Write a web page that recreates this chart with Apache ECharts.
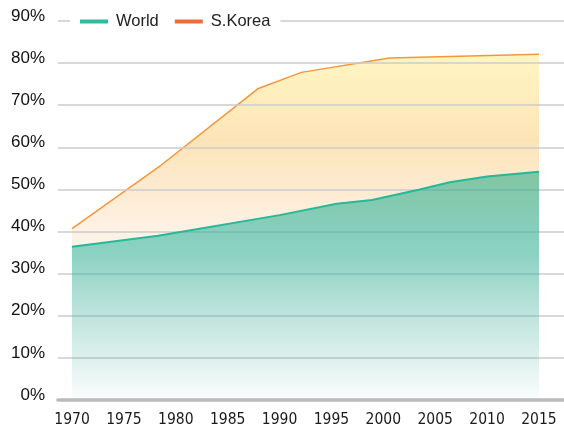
<!DOCTYPE html>
<html><head><meta charset="utf-8">
<script src="https://cdn.jsdelivr.net/npm/echarts@6/dist/echarts.min.js"></script>
<style>html,body{margin:0;padding:0;background:#fff}#c{width:564px;height:429px}</style>
</head><body><div id="c"></div>
<script>
const yearTicks = [1970,1975,1980,1985,1990,1995,2000,2005,2010,2015];
const worldYears = [1970, 1978.3, 1990, 1995.5, 1998.9, 2003.5, 2006.4, 2010, 2015];
const worldValues = [36.4, 39.0, 43.9, 46.6, 47.5, 50.0, 51.7, 53.1, 54.2];
const koreaYears = [1970, 1978.6, 1987.9, 1992.1, 2000.6, 2015];
const koreaValues = [40.7, 55.8, 73.9, 77.8, 81.2, 82.1];

const world = worldYears.map((y,i)=>[y, worldValues[i]]);
const korea = koreaYears.map((y,i)=>[y, koreaValues[i]]);

const chart = echarts.init(document.getElementById('c'), null, {renderer:'canvas'});
const G = echarts.graphic;
chart.setOption({
  animation:false,
  grid:{left:58,right:0,top:21,bottom:29},
  legend:{
    left:70, top:9, backgroundColor:'#fff', padding:[4,10,4,10], z:10,
    itemWidth:28, itemHeight:4, itemGap:16, icon:'rect',
    textStyle:{fontSize:16.5, color:'#222', fontFamily:'Liberation Sans', padding:[0,0,0,3]},
    data:[{name:'World', itemStyle:{color:'#2fbc9c'}},{name:'S.Korea', itemStyle:{color:'#f06a3a'}}]
  },
  xAxis:{
    type:'value', min:1968.65, max:2017.41, z:6,
    axisLine:{show:true, lineStyle:{color:'#bbb', width:3.5}},
    axisTick:{show:false},
    splitLine:{show:false},
    axisLabel:{customValues:yearTicks, margin:12, color:'#1a1a1a', fontSize:15.5, fontFamily:"'DejaVu Sans Condensed', 'Liberation Sans', sans-serif", formatter:v=>String(v)}
  },
  yAxis:{
    type:'value', min:0, max:90, interval:10, z:2.5,
    axisLine:{show:false}, axisTick:{show:false},
    splitLine:{lineStyle:{color:'#cbcbcb', width:1.5}},
    axisLabel:{margin:13, color:'#111', fontSize:17, fontFamily:'Liberation Sans', verticalAlign:'bottom', lineHeight:10, formatter:'{value}%'}
  },
  series:[
    {name:'S.Korea', type:'line', data:korea, symbol:'none', z:2,
     lineStyle:{color:'#f7953a', width:1.5},
     itemStyle:{color:'#f06a3a'},
     areaStyle:{opacity:1, color:new G.LinearGradient(0,0,0,1,[
       {offset:0,color:'#fff6c2'},{offset:0.25,color:'#fde4b8'},{offset:0.5,color:'#fdf1e4'},{offset:1,color:'#ffffff'}])}
    },
    {name:'World', type:'line', data:world, symbol:'none', z:3,
     lineStyle:{color:'#26b898', width:2},
     itemStyle:{color:'#2fbc9c'},
     areaStyle:{opacity:1, color:new G.LinearGradient(0,0,0,1,[
       {offset:0,color:'rgba(35,170,135,0.57)'},{offset:0.35,color:'rgba(35,180,160,0.53)'},
       {offset:0.65,color:'rgba(40,180,170,0.28)'},{offset:1,color:'rgba(40,180,175,0.02)'}])}
    }
  ]
});
</script></body></html>
